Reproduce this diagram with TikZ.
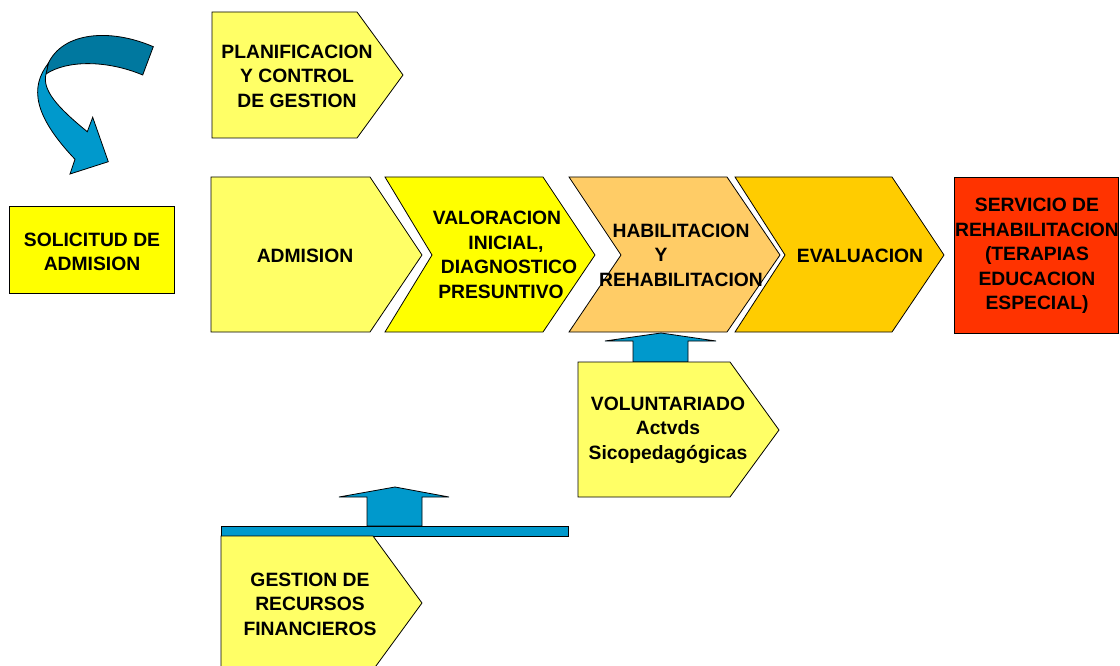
\documentclass[tikz,border=0pt]{standalone}
\usepackage{fontspec}
\setmainfont{Liberation Sans}
\definecolor{ylight}{HTML}{FFFF66}
\definecolor{ypure}{HTML}{FFFF00}
\definecolor{orlight}{HTML}{FFCC66}
\definecolor{orgold}{HTML}{FFCC00}
\definecolor{redor}{HTML}{FF3300}
\definecolor{blueA}{HTML}{0099CC}
\definecolor{blueD}{HTML}{00789F}
\tikzset{
  shapebox/.style={draw=black, line width=0.8pt, line join=miter},
  lbl/.style={font=\bfseries\fontsize{19.3}{24.5}\selectfont, align=center, text=black, inner sep=0pt},
}
\begin{document}
\begin{tikzpicture}[x=1pt,y=-1pt]
\useasboundingbox (0,0) rectangle (1120,666);
\clip (0,0) rectangle (1120,666);

% curved arrow
\path[shapebox, fill=blueD] (153.3,46.7) .. controls (110,28) and (63,32) .. (48.3,63.3) -- (46,74) .. controls (67,60) and (107,60) .. (142.7,75) -- cycle;
\path[shapebox, fill=blueA] (48.3,63.3) .. controls (30,87) and (33,115) .. (75,159.3) -- (70,174) -- (108.3,161.7) -- (92.7,117.3) -- (87.3,131.7) .. controls (57,107) and (42,90) .. (46,74) -- cycle;

% planificacion
\path[shapebox, fill=ylight] (212,12) -- (357,12) -- (403,75) -- (357,138) -- (212,138) -- cycle;
\node[lbl] (plan) at (297,76) {PLANIFICACION\\Y CONTROL\\DE GESTION};

% solicitud
\path[shapebox, fill=ypure] (9,206) rectangle (174,293);
\node[lbl] (sol) at (92,252) {SOLICITUD DE\\ADMISION};

% main row
\path[shapebox, fill=ylight] (211,177) -- (370,177) -- (422,255) -- (370,332) -- (211,332) -- cycle;
\node[lbl] (adm) at (305,256) {ADMISION};

\path[shapebox, fill=ypure] (385,177) -- (543,177) -- (595,255) -- (543,332) -- (385,332) -- (432,255) -- cycle;
\node[lbl] (val) at (504,255) {VALORACION\hspace*{14pt}\mbox{}\\\hspace*{4pt}INICIAL,\\\hspace*{10pt}DIAGNOSTICO\\PRESUNTIVO\hspace*{6pt}\mbox{}};

\path[shapebox, fill=orlight] (569,177) -- (727,177) -- (780,255) -- (727,332) -- (569,332) -- (621,255) -- cycle;
\node[lbl] (hab) at (681,255) {HABILITACION\\Y\hspace*{40pt}\mbox{}\\REHABILITACION};

\path[shapebox, fill=orgold] (735,177) -- (892,177) -- (944,255) -- (892,332) -- (735,332) -- (785,255) -- cycle;
\node[lbl] (eva) at (860,256) {EVALUACION};

\path[shapebox, fill=redor] (954,177) rectangle (1118,333);
\node[lbl] (serv) at (1037,256) {SERVICIO DE\\REHABILITACION\\(TERAPIAS\\EDUCACION\\ESPECIAL)};

% voluntariado arrow
\path[shapebox, fill=blueA] (633,362) -- (633,341) -- (605,341) -- (661,333) -- (716,341) -- (688,341) -- (688,362) -- cycle;
\path[shapebox, fill=ylight] (578,362) -- (730,362) -- (779,430) -- (730,497) -- (578,497) -- cycle;
\node[lbl] (vol) at (668,430) {VOLUNTARIADO\\Actvds\\Sicopedagógicas};

% gestion
\path[shapebox, fill=blueA] (367,526) -- (367,497) -- (339,497) -- (395,487) -- (449,497) -- (422,497) -- (422,526) -- cycle;
\path[shapebox, fill=blueA] (221,526) rectangle (568,536);
\path[shapebox, fill=ylight] (221,536) -- (373,536) -- (422,603) -- (373,670) -- (221,670) -- cycle;
\node[lbl] (gest) at (310,604) {GESTION DE\\RECURSOS\\FINANCIEROS};
\end{tikzpicture}
\end{document}
